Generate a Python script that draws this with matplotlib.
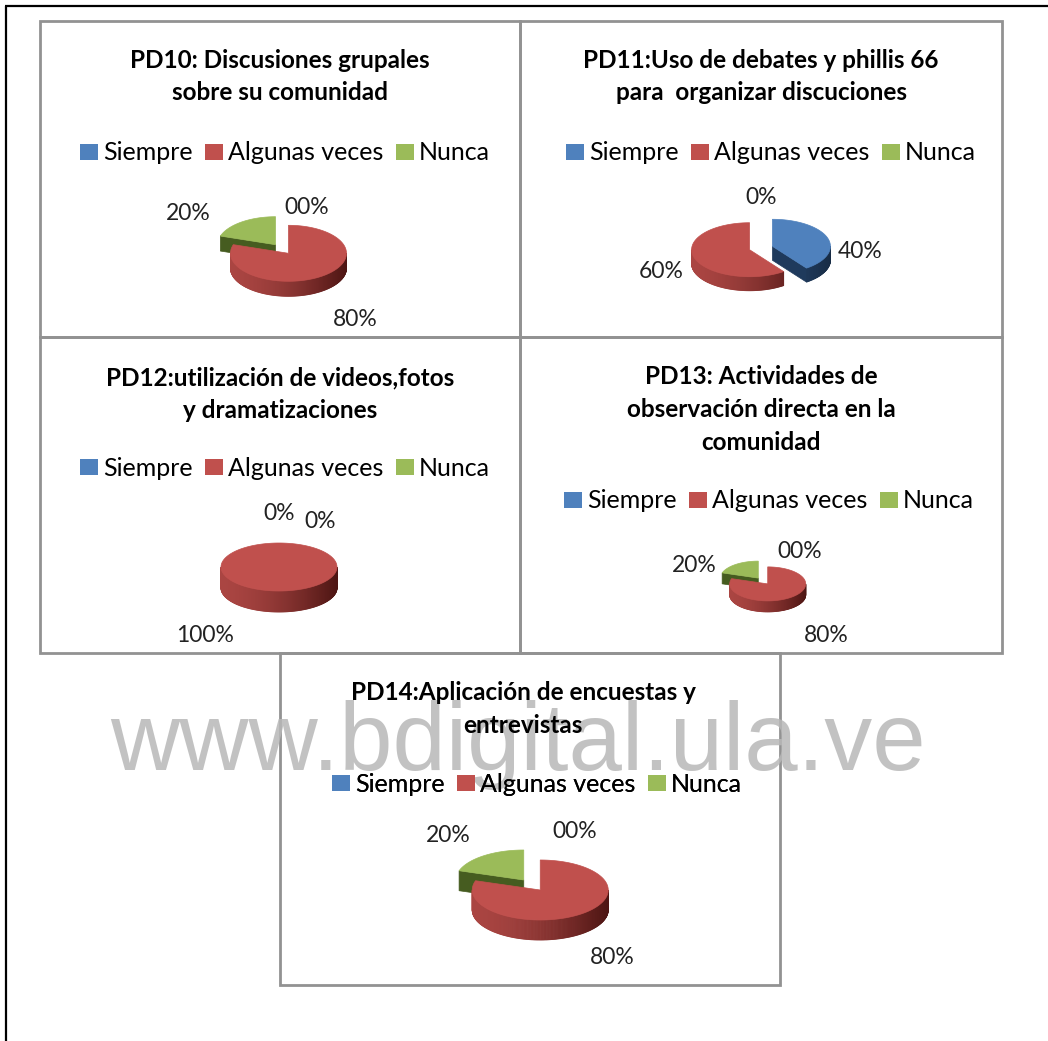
import numpy as np
import matplotlib
matplotlib.use('Agg')
import matplotlib.pyplot as plt
from matplotlib.patches import Polygon, Rectangle, Patch
from matplotlib.colors import to_rgb

# ---------------- data ----------------
categories = ['Siempre', 'Algunas veces', 'Nunca']

pd10_values = [0, 80, 20]
pd11_values = [40, 60, 0]
pd12_values = [0, 100, 0]
pd13_values = [0, 80, 20]
pd14_values = [0, 80, 20]

pd10_labels = ['00%', '80%', '20%']
pd11_labels = ['40%', '60%', '0%']
pd12_labels = ['0%', '100%', '0%']
pd13_labels = ['00%', '80%', '20%']
pd14_labels = ['00%', '80%', '20%']

pd10_title = ['PD10: Discusiones grupales', 'sobre su comunidad']
pd11_title = ['PD11:Uso de debates y phillis 66', 'para  organizar discuciones']
pd12_title = ['PD12:utilización de videos,fotos', 'y dramatizaciones']
pd13_title = ['PD13: Actividades de', 'observación directa en la', 'comunidad']
pd14_title = ['PD14:Aplicación de encuestas y', 'entrevistas']

watermark = 'www.bdigital.ula.ve'

# ---------------- style ----------------
top_colors = ['#4F81BD', '#C0504D', '#9BBB59']
side_light = ['#2c5283', '#aa4542', '#5d7a2a']
side_dark = ['#182c45', '#4d1513', '#36461a']
face_colors = ['#1f3a5c', '#7a2826', '#465c20']
FONT = ['Lato', 'DejaVu Sans']

# layout per panel: box, title (x, y first line), legend center, pie geometry,
# label offsets relative to the pie centre (per category)
panels = [
    dict(values=pd10_values, labels=pd10_labels, title=pd10_title,
         box=(40, 21, 480, 316), tx=280, ty=60, lx=285, ly=153,
         pie=(282, 249, 58, 28, 15, 11),
         lab=[(25, -41), (73, 71), (-94, -36)]),
    dict(values=pd11_values, labels=pd11_labels, title=pd11_title,
         box=(520, 21, 482, 316), tx=761, ty=60, lx=771, ly=153,
         pie=(761, 248, 58, 27, 14, 12),
         lab=[(99, 4), (-100, 24), (0, -50)]),
    dict(values=pd12_values, labels=pd12_labels, title=pd12_title,
         box=(40, 337, 480, 316), tx=280, ty=378, lx=285, ly=468,
         pie=(279, 567, 58, 24, 21, 0),
         lab=[(0, -54), (-74, 68), (41, -45)]),
    dict(values=pd13_values, labels=pd13_labels, title=pd13_title,
         box=(520, 337, 482, 316), tx=761, ty=377, lx=769, ly=501,
         pie=(763, 581, 38, 17, 11, 8),
         lab=[(37, -29), (63, 54), (-69, -15)]),
    dict(values=pd14_values, labels=pd14_labels, title=pd14_title,
         box=(280, 653, 500, 332), tx=523, ty=693, lx=537, ly=784,
         pie=(532, 885, 68, 30, 20, 14),
         lab=[(43, -53), (80, 72), (-84, -49)]),
]


def mix(c1, c2, t):
    a = np.array(to_rgb(c1)); b = np.array(to_rgb(c2))
    return tuple(a + (b - a) * t)


def draw_pie(ax, values, cx, cy, rx, ry, depth, explode):
    total = float(sum(values))
    k = ry / rx
    slices = []
    start = 0.0
    for i, v in enumerate(values):
        if v <= 0:
            continue
        sweep = 360.0 * v / total
        slices.append((i, start, start + sweep))
        start += sweep
    if len(slices) == 1:
        explode = 0
    slices.sort(key=lambda s: -np.cos(np.radians((s[1] + s[2]) / 2)))
    for i, s, e in slices:
        mid = np.radians((s + e) / 2)
        ox = explode * np.sin(mid)
        oy = -explode * k * np.cos(mid)
        x0, y0 = cx + ox, cy + oy
        n = max(int((e - s) / 1.0), 4)
        th = np.radians(np.linspace(s, e, n + 1))
        xs = x0 + rx * np.sin(th)
        ys = y0 - ry * np.cos(th)
        full = (e - s) >= 359.999
        # radial faces
        if not full:
            for edge, phi in ((s, s - 90), (e, e + 90)):
                if np.cos(np.radians(phi)) < -1e-6:
                    a = np.radians(edge)
                    px, py = x0 + rx * np.sin(a), y0 - ry * np.cos(a)
                    ax.add_patch(Polygon([(x0, y0), (px, py), (px, py + depth), (x0, y0 + depth)],
                                         closed=True, fc=face_colors[i], ec=face_colors[i],
                                         lw=0.5, zorder=3))
        # outer wall (front part)
        for j in range(n):
            tm = (th[j] + th[j + 1]) / 2
            if np.cos(tm) >= 0:
                continue
            t = ((np.sin(tm) + 1) / 2) ** 1.6
            col = mix(side_light[i], side_dark[i], t)
            ax.add_patch(Polygon([(xs[j], ys[j]), (xs[j + 1], ys[j + 1]),
                                  (xs[j + 1], ys[j + 1] + depth), (xs[j], ys[j] + depth)],
                                 closed=True, fc=col, ec=col, lw=0.6, zorder=3))
        # top face
        if full:
            pts = list(zip(xs, ys))
        else:
            pts = [(x0, y0)] + list(zip(xs, ys))
        ax.add_patch(Polygon(pts, closed=True, fc=top_colors[i], ec=top_colors[i],
                             lw=0.5, zorder=3))


fig = plt.figure(figsize=(10.48, 10.41), dpi=100)
ax = fig.add_axes([0, 0, 1, 1])
ax.set_xlim(0, 1048)
ax.set_ylim(1041, 0)
ax.axis('off')

# outer frame
ax.plot([5, 1048], [6, 6], color='black', lw=1.6, zorder=1, solid_capstyle='butt')
ax.plot([6, 6], [6, 1041], color='black', lw=1.6, zorder=1, solid_capstyle='butt')

handles = [Patch(facecolor=c, edgecolor='none') for c in top_colors]

for p in panels:
    bx, by, bw, bh = p['box']
    ax.add_patch(Rectangle((bx, by), bw, bh, fill=False, ec='#929292', lw=2.0, zorder=2))
    for li, line in enumerate(p['title']):
        ax.text(p['tx'], p['ty'] + li * 32.5, line, ha='center', va='center',
                fontsize=17.5, fontweight='bold', family=FONT, color='black', zorder=6)
    leg = ax.legend(handles, categories, loc='center', bbox_to_anchor=(p['lx'], p['ly']),
                    bbox_transform=ax.transData, ncol=3, frameon=False,
                    prop=dict(family=FONT, size=18), handlelength=0.72, handleheight=0.6,
                    handletextpad=0.2, columnspacing=0.5, borderpad=0, borderaxespad=0)
    leg.set_zorder(6)
    ax.add_artist(leg)
    cx, cy, rx, ry, depth, ex = p['pie']
    draw_pie(ax, p['values'], cx, cy, rx, ry, depth, ex)
    for (dx, dy), txt in zip(p['lab'], p['labels']):
        ax.text(cx + dx, cy + dy, txt, ha='center', va='center', fontsize=16.5,
                family=FONT, color='#222222', zorder=6)

ax.text(518, 770, watermark, ha='center', va='baseline', fontsize=69,
        family=['Liberation Sans', 'DejaVu Sans'], color='#b8b8b8', alpha=0.85, zorder=5)

fig.savefig('out.png', dpi=100)
